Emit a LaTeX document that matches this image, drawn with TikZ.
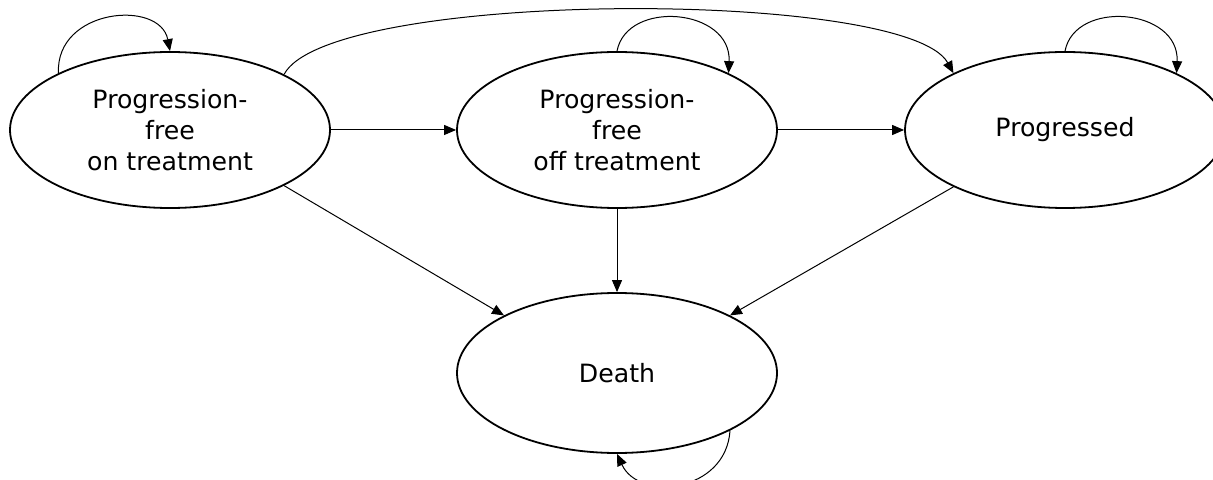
\documentclass[tikz,border=0pt]{standalone}
\usepackage{fontspec}
\setmainfont{DejaVu Sans}
\usetikzlibrary{shapes.geometric,arrows.meta}
\begin{document}
\begin{tikzpicture}[x=0.5pt,y=-0.5pt,
  state/.style={draw,line width=0.9pt,ellipse,minimum width=160pt,minimum height=78pt,inner sep=0pt,align=center,font=\fontsize{12.6}{15.5}\selectfont},
  conn/.style={line width=0.5pt,-{Triangle[length=6pt,width=5pt]}}]
\useasboundingbox (0,0) rectangle (1213,480);
\clip (0,0) rectangle (1213,480);
\node[state] (e1) at (170,130) {Progression-\\free\\on treatment};
\node[state] (e2) at (617,130) {Progression-\\free\\off treatment};
\node[state] (e3) at (1065,130) {Progressed};
\node[state,minimum height=80pt] (d) at (617,373) {Death};
% self loops
\draw[conn] (e1.153) .. controls +(-3,-65) and +(-10,-52) .. (e1.90);
\draw[conn] (e2.90) .. controls +(10,-52) and +(3,-65) .. (e2.27);
\draw[conn] (e3.90) .. controls +(10,-52) and +(3,-65) .. (e3.27);
\draw[conn] (d.-27) .. controls +(-4,62) and +(22,48) .. (d.270);
% big arc
\draw[conn] (e1.26) .. controls +(45,-85) and +(-47,-85) .. (e3.153);
% straight
\draw[conn] (e1.east) -- (e2.west);
\draw[conn] (e2.east) -- (e3.west);
\draw[conn] (e2.south) -- (d.north);
\draw[conn] (e1.-26) -- (d.153);
\draw[conn] (e3.207) -- (d.27);
\end{tikzpicture}
\end{document}
